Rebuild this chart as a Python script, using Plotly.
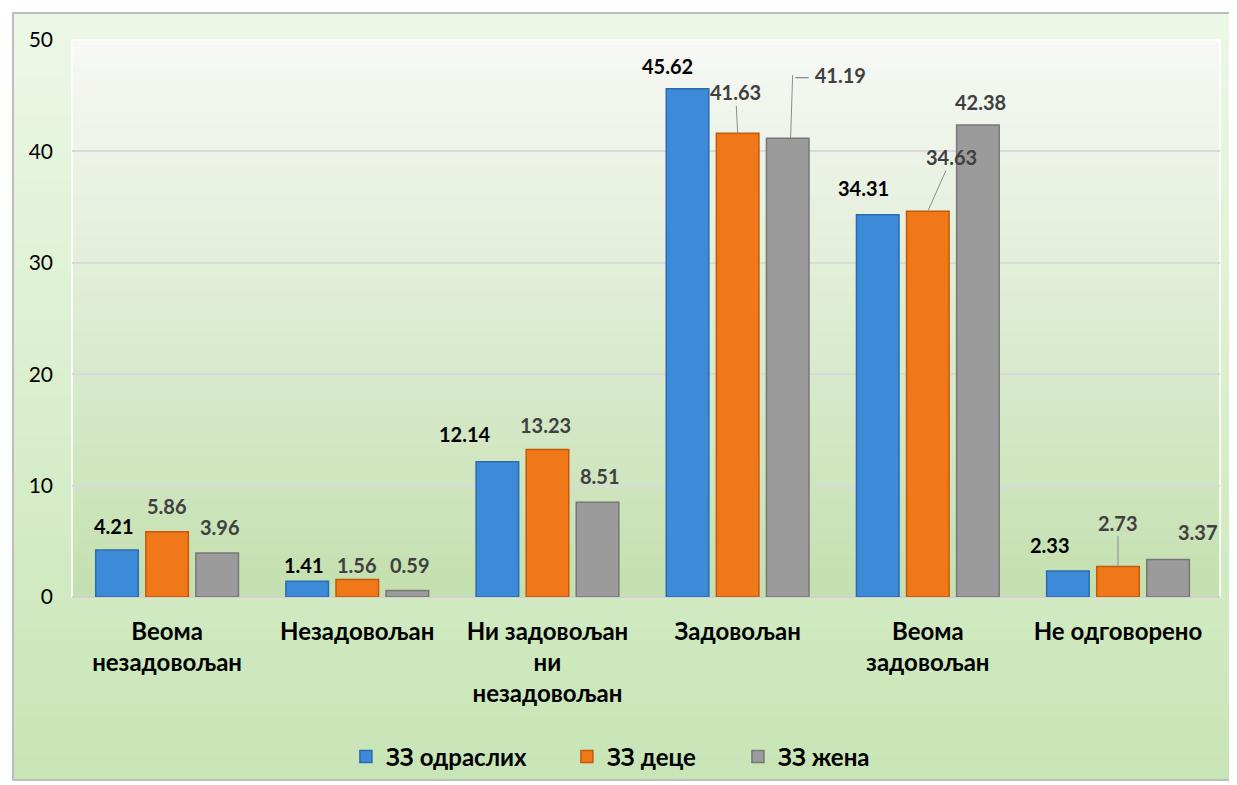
# -*- coding: utf-8 -*-
"""Satisfaction survey, grouped bar chart"""
import plotly.graph_objects as go

CATEGORIES = [
    "Веома<br>незадовољан",
    "Незадовољан",
    "Ни задовољан<br>ни<br>незадовољан",
    "Задовољан",
    "Веома<br>задовољан",
    "Не одговорено",
]
SERIES = ["ЗЗ одраслих", "ЗЗ деце", "ЗЗ жена"]
ADULTS = [4.21, 1.41, 12.14, 45.62, 34.31, 2.33]
CHILDREN = [5.86, 1.56, 13.23, 41.63, 34.63, 2.73]
WOMEN = [3.96, 0.59, 8.51, 41.19, 42.38, 3.37]
Y_TICKS = [0, 10, 20, 30, 40, 50]

COLORS = ["#3d8ad8", "#f07818", "#9b9b9b"]
EDGES = ["#2a6bb0", "#c25a0c", "#777777"]
LABEL_COLORS = ["#000000", "#404040", "#404040"]
FONT = "Lato, 'Open Sans', sans-serif"

# label offsets in px from the top centre of each bar (dx, dy up) and
# leader style: None, "line" (straight) or "elbow" (up then right)
LABEL_OFFSETS = [
    [(0, 24), (0, 16), (-29, 28), (-17, 23), (-11, 27), (-15, 26)],
    [(0, 26), (0, 15), (-2, 25), (-2, 41), (24, 54), (0, 44)],
    [(0, 26), (0, 25), (0, 26), (2, 63), (0, 23), (27, 27)],
]
LEADERS = [
    [None] * 6,
    [None, None, None, "line", "line", "line"],
    [None, None, None, "elbow", None, None],
]
SERIES_SHIFT = [-53, 0, 53]
LEGEND_X = [0.2386, 0.4311, 0.5801]


def _band(x0, x1, y0, y1, c0, c1, n):
    """Stack of thin rectangles that fake a vertical gradient (paper coords)"""
    shapes = []
    step = (y1 - y0) / n
    for k in range(n):
        t = k / (n - 1)
        rgb = [round(a + (b - a) * t) for a, b in zip(c0, c1)]
        ya = y0 + step * k
        yb = y0 + step * (k + 1.6) if k < n - 1 else y1
        shapes.append(dict(
            type="rect", xref="paper", yref="paper", layer="below",
            x0=x0, x1=x1, y0=ya, y1=yb, line=dict(width=0),
            fillcolor=f"rgb({rgb[0]},{rgb[1]},{rgb[2]})",
        ))
    return shapes


fig = go.Figure()
legend_ids = ["legend", "legend2", "legend3"]
for name, vals, color, edge, lg in zip(SERIES, [ADULTS, CHILDREN, WOMEN], COLORS, EDGES,
                                       legend_ids):
    fig.add_trace(go.Bar(
        name=name, x=CATEGORIES, y=vals, legend=lg,
        marker=dict(color=color, line=dict(color=edge, width=1.5)),
    ))

annotations = []
for i, vals in enumerate([ADULTS, CHILDREN, WOMEN]):
    for j, v in enumerate(vals):
        dx, dy = LABEL_OFFSETS[i][j]
        base = dict(
            x=CATEGORIES[j], y=v, xref="x", yref="y", text=f"{v:.2f}",
            font=dict(family=FONT, size=20, color=LABEL_COLORS[i], weight="bold"),
        )
        leader = LEADERS[i][j]
        if leader:
            base.update(showarrow=True, arrowhead=0, arrowwidth=1, arrowcolor="#8c8c8c",
                        xshift=SERIES_SHIFT[i], ax=dx, ay=-dy, standoff=0)
            if leader == "elbow":
                base.update(
                    xanchor="left", borderpad=0,
                    text="<span style='color:#8c8c8c;font-weight:normal'>—</span>"
                         f"&nbsp;{v:.2f}",
                )
        else:
            base.update(showarrow=False, xshift=SERIES_SHIFT[i] + dx, yshift=dy)
        annotations.append(base)

shapes = []
# outer chart area (inside the frame)
shapes += _band(-0.0514, 1.0105, 1.0485, -0.3285, (236, 248, 230), (200, 229, 182), 60)
# plot area
shapes += _band(0, 1, 1, 0, (246, 248, 244), (196, 224, 176), 40)
shapes.append(dict(type="rect", xref="paper", yref="paper", layer="below",
                   x0=0, x1=1, y0=0, y1=1, line=dict(color="white", width=1.5)))
shapes.append(dict(type="rect", xref="paper", yref="paper", layer="below",
                   x0=-0.0514, x1=1.0105, y0=1.0485, y1=-0.3285,
                   line=dict(color="#bdbdbd", width=2)))

legend_style = dict(orientation="h", xanchor="left", y=-0.287, yanchor="middle",
                    font=dict(family=FONT, size=24, color="black", weight="bold"),
                    bgcolor="rgba(0,0,0,0)")

# the page body adds an 8px margin, so the figure is 8px smaller each way
fig.update_layout(
    width=1229, height=777,
    margin=dict(l=64, r=17, t=32, b=188, autoexpand=False),
    paper_bgcolor="white", plot_bgcolor="rgba(0,0,0,0)",
    barmode="group", bargap=0.21, bargroupgap=0.15,
    font=dict(family=FONT, color="black"),
    showlegend=True,
    legend=dict(x=LEGEND_X[0], **legend_style),
    legend2=dict(x=LEGEND_X[1], **legend_style),
    legend3=dict(x=LEGEND_X[2], **legend_style),
    xaxis=dict(tickfont=dict(family=FONT, size=24, color="black", weight="bold"),
               ticks="outside", ticklen=13, tickcolor="rgba(0,0,0,0)",
               showline=False, showgrid=False),
    yaxis=dict(range=[0, 50], tickvals=Y_TICKS, showgrid=True, gridcolor="#d9d9d9",
               gridwidth=1.5, zeroline=True, zerolinecolor="#d0d0d0", zerolinewidth=2,
               tickfont=dict(family=FONT, size=21, color="black"),
               ticklabelstandoff=18, showline=False),
    annotations=annotations,
    shapes=shapes,
)

fig.write_html("out.html")
